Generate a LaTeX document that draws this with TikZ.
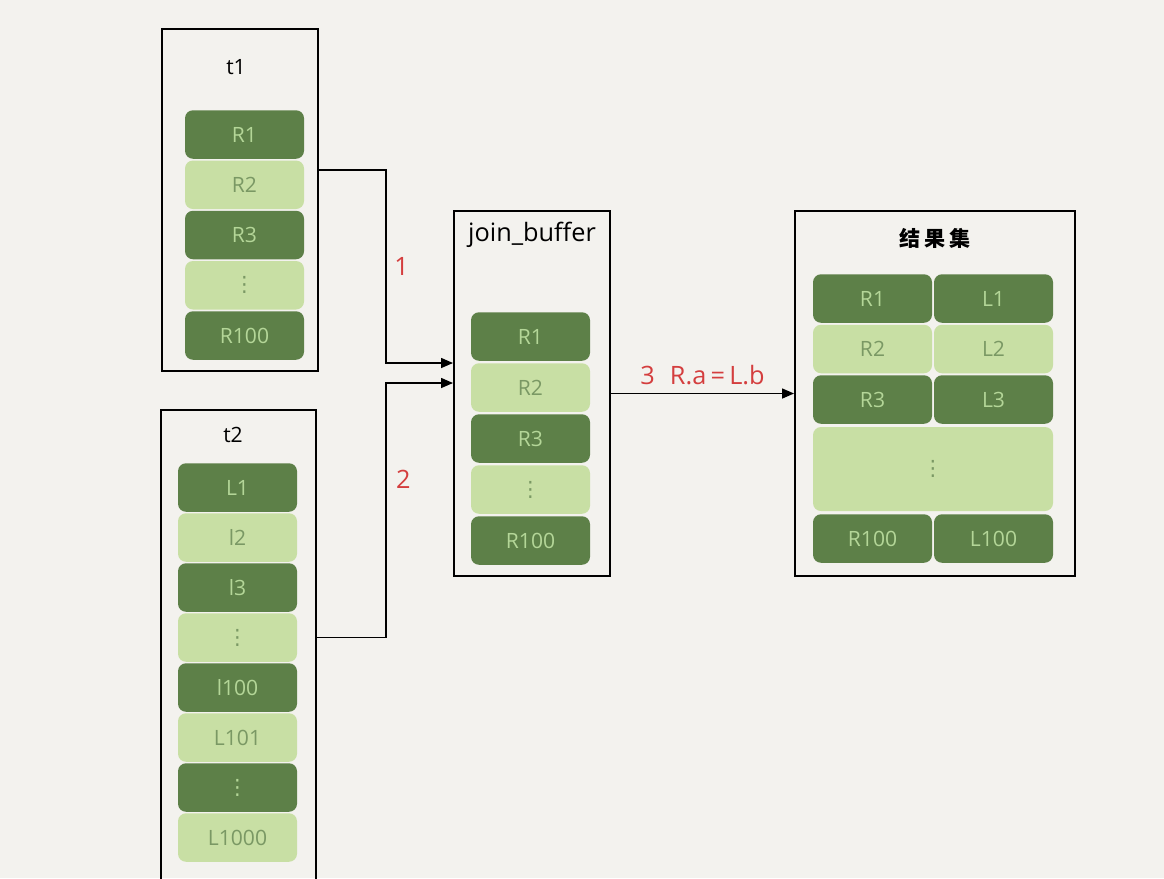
\documentclass[tikz,border=0pt]{standalone}
\usepackage{fontspec}
\setmainfont{Open Sans}
\newfontfamily\cjk{Noto Sans CJK SC}
\newfontfamily\symf{DejaVu Sans}
\usetikzlibrary{arrows.meta}

\definecolor{bgcol}{RGB}{243,242,238}
\definecolor{darkrow}{RGB}{93,128,72}
\definecolor{lightrow}{RGB}{200,223,164}
\definecolor{darktxt}{RGB}{180,214,152}
\definecolor{lighttxt}{RGB}{122,152,100}
\definecolor{lblred}{RGB}{212,62,62}

\newcommand{\rowdots}{{\symf ⋮}}

\tikzset{
  tblbox/.style={draw=black, line width=1.1pt, rectangle, inner sep=0pt},
  rowd/.style={rectangle, rounded corners=1.6mm, fill=darkrow, text=darktxt,
    minimum width=23.8mm, minimum height=9.7mm, inner sep=0pt, font=\large},
  rowl/.style={rowd, fill=lightrow, text=lighttxt},
  title/.style={font=\large},
  link/.style={draw=black, line width=0.8pt, -{Triangle[length=2.4mm, width=2mm]}},
  lbl/.style={text=lblred, font=\Large}
}

\begin{document}
\begin{tikzpicture}[x=0.2mm, y=-0.2mm]
  \fill[bgcol] (0,0) rectangle (1164,878);
  \clip (0,0) rectangle (1164,878);

  % tables
  \node[tblbox, minimum width=31.2mm, minimum height=68.4mm] (t1) at (240,200) {};
  \node[tblbox, minimum width=31mm, minimum height=98mm] (t2) at (238.5,655) {};
  \node[tblbox, minimum width=31.2mm, minimum height=73mm] (jb) at (532,393.5) {};
  \node[tblbox, minimum width=56mm, minimum height=73mm] (res) at (935,393.5) {};

  \node[title] (t1name) at (236,67) {t1};
  \node[title] (t2name) at (233,435) {t2};
  \node[title, font=\Large] (jbname) at (532,235) {join\_buffer};
  \node[title] (resname) at (935,238) {\cjk\bfseries 结\,果\,集};

  % t1 rows
  \foreach \txt/\sty [count=\i from 0] in {R1/rowd, R2/rowl, R3/rowd, \rowdots/rowl, R100/rowd}
    \node[\sty] (t1r\i) at (244.5,134.5+50.25*\i) {\txt};

  % t2 rows
  \foreach \txt/\sty [count=\i from 0] in {L1/rowd, l2/rowl, l3/rowd, \rowdots/rowl,
      l100/rowd, L101/rowl, \rowdots/rowd, L1000/rowl}
    \node[\sty] (t2r\i) at (237.5,487.5+50*\i) {\txt};

  % join_buffer rows
  \foreach \txt/\sty [count=\i from 0] in {R1/rowd, R2/rowl, R3/rowd, \rowdots/rowl, R100/rowd}
    \node[\sty] (jbr\i) at (530.5,336.5+51*\i) {\txt};

  % result rows
  \foreach \a/\b/\sty/\y [count=\i] in {R1/L1/rowd/298.5, R2/L2/rowl/349, R3/L3/rowd/399.5, R100/L100/rowd/538.5} {
    \node[\sty] (resa\i) at (872.5,\y) {\a};
    \node[\sty] (resb\i) at (993.5,\y) {\b};
  }
  \node[rowl, minimum width=48mm, minimum height=16.8mm] (resdots) at (933,469) {\rowdots};

  % arrows
  \draw[link] ([yshift=6mm]t1.east) -- ++(67,0) |- node[lbl, pos=0.25, right=1pt] {1} ([yshift=6.1mm]jb.west);
  \draw[link] (t2.east |- t2r3) -- ++(69,0) |- node[lbl, pos=0.31, right=2pt] {2} ([yshift=2.1mm]jb.west);
  \draw[link] (jb.east) -- node[lbl, above=1pt] {3\hspace{0.6em}R.a\,=\,L.b} (res.west);
\end{tikzpicture}
\end{document}
